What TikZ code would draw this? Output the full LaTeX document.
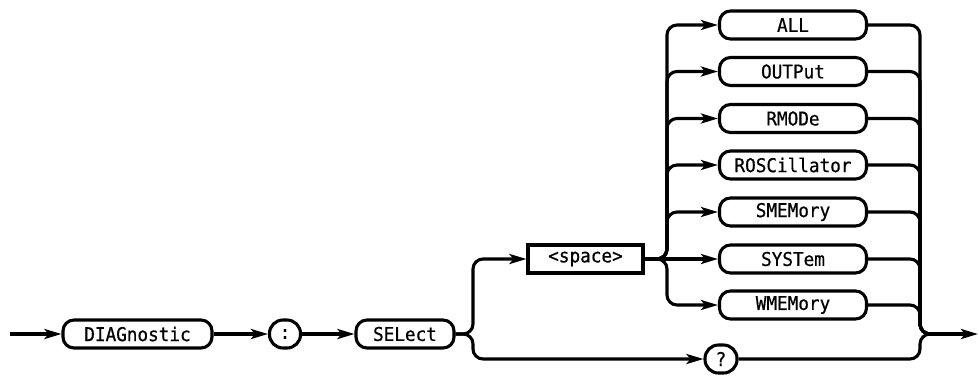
\documentclass[tikz,border=0pt]{standalone}
\usepackage{fontspec}
\newfontfamily\diagfont[FakeStretch=0.93,FakeBold=0.6]{DejaVu Sans Mono}
\usetikzlibrary{arrows.meta}
\tikzset{
  txt/.style={font=\diagfont\fontsize{19}{22}\selectfont, inner sep=0pt, minimum height=28pt, line width=3.1pt, draw},
  kw/.style={txt, rounded corners=11pt},
  sq/.style={txt},
  rd/.style={txt, rounded corners=13.5pt, minimum width=31pt},
  ln/.style={line width=3.1pt, rounded corners=10pt},
  arr/.style={ln, -{Stealth[length=17pt,width=10pt,inset=4pt]}},
}
\begin{document}
\begin{tikzpicture}[x=1pt,y=-1pt]
\useasboundingbox (0,0) rectangle (979,376);
% main line
\coordinate (start) at (10,334);
\node[kw, minimum width=149pt] (diag) at (137.5,334) {DIAGnostic};
\node[rd] (colon) at (285,334) {:};
\node[kw, minimum width=98pt] (sel) at (405,334) {SELect};
\node[sq, minimum width=115pt] (space) at (585.5,259) {<space>};
\node[rd, minimum width=32pt] (q) at (721,359) {?};
% options
\node[kw, minimum width=147pt] (all) at (793,25) {ALL};
\node[kw, minimum width=147pt] (outp) at (793,71.5) {OUTPut};
\node[kw, minimum width=147pt] (rmod) at (793,118.5) {RMODe};
\node[kw, minimum width=147pt] (rosc) at (793,165) {ROSCillator};
\node[kw, minimum width=147pt] (smem) at (793,212) {SMEMory};
\node[kw, minimum width=147pt] (syst) at (793,259) {SYSTem};
\node[kw, minimum width=147pt] (wmem) at (793,305) {WMEMory};
\coordinate (jr) at (936,334);
\coordinate (exit) at (978,334);
% connectors
\draw[arr] (start) -- (diag.west);
\draw[arr] (diag.east) -- (colon.west);
\draw[arr] (colon.east) -- (sel.west);
\draw[arr] (sel.east) -- (473,334) -- (473,259) -- (space.west);
\draw[arr] (sel.east) -- (473,334) -- (473,359) -- (q.west);
\foreach \n in {all,outp,rmod,rosc,smem,wmem}{
  \draw[arr] (space.east) -- (667,259) -- (667,0 |- \n.west) -- (\n.west);
}
\draw[arr] (space.east) -- (syst.west);
\foreach \n in {all,outp,rmod,rosc,smem,syst,wmem}{
  \draw[ln] (\n.east) -- (920,0 |- \n.east) -- (920,334) -- (jr);
}
\draw[ln] (q.east) -- (920,359) -- (920,334) -- (jr);
\draw[arr] (jr) -- (exit);
\end{tikzpicture}
\end{document}
